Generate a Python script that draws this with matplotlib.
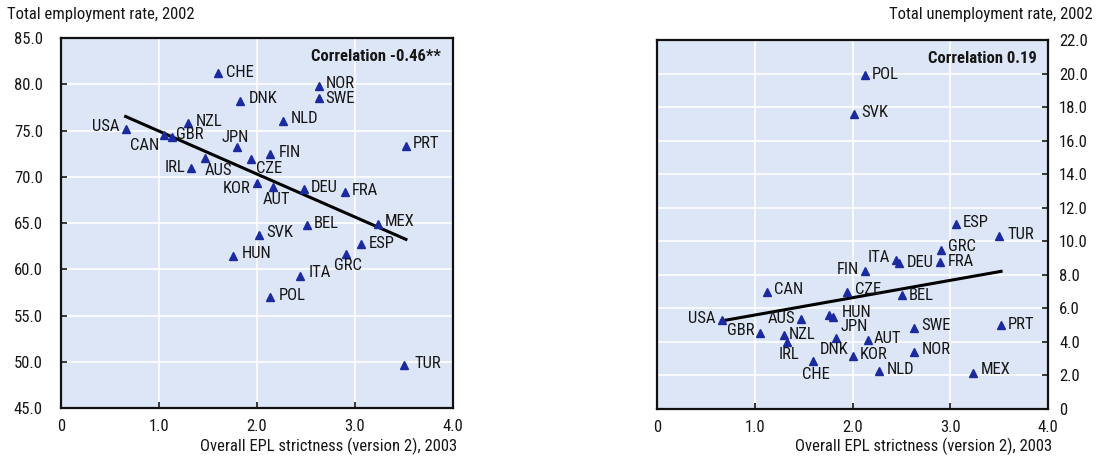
import matplotlib
matplotlib.use("Agg")
import matplotlib.pyplot as plt
import numpy as np

plt.rcParams['font.family'] = ['Roboto Condensed', 'Liberation Sans', 'DejaVu Sans']
plt.rcParams['font.stretch'] = 'condensed'

countries = ["USA", "CAN", "GBR", "NZL", "IRL", "AUS", "CHE", "HUN", "JPN", "DNK",
             "CZE", "KOR", "SVK", "POL", "FIN", "AUT", "NLD", "ITA", "DEU", "BEL",
             "SWE", "NOR", "FRA", "GRC", "ESP", "MEX", "TUR", "PRT"]
epl = [0.66, 1.13, 1.05, 1.30, 1.33, 1.47, 1.60, 1.76, 1.80, 1.83,
       1.94, 2.00, 2.02, 2.13, 2.13, 2.16, 2.27, 2.44, 2.48, 2.51,
       2.63, 2.63, 2.90, 2.91, 3.06, 3.23, 3.50, 3.52]
employment = [75.2, 74.3, 74.5, 75.8, 70.9, 72.0, 81.2, 61.4, 73.2, 78.2,
              71.9, 69.3, 63.7, 57.0, 72.5, 68.9, 76.0, 59.3, 68.7, 64.8,
              78.5, 79.8, 68.3, 61.7, 62.7, 64.9, 49.7, 73.3]
unemployment = [5.3, 7.0, 4.55, 4.4, 4.0, 5.35, 2.85, 5.6, 5.5, 4.25,
                7.0, 3.15, 17.6, 19.9, 8.2, 4.1, 2.25, 8.9, 8.7, 6.8,
                4.85, 3.4, 8.75, 9.5, 11.0, 2.15, 10.3, 5.0]

left_title = "Total employment rate, 2002"
right_title = "Total unemployment rate, 2002"
xlabel = "Overall EPL strictness (version 2), 2003"
left_corr = "Correlation -0.46**"
right_corr = "Correlation 0.19"
x_ticks = [0, 1, 2, 3, 4]
x_ticklabels = ["0", "1.0", "2.0", "3.0", "4.0"]
left_yticks = [45, 50, 55, 60, 65, 70, 75, 80, 85]
left_yticklabels = ["45.0", "50.0", "55.0", "60.0", "65.0", "70.0", "75.0", "80.0", "85.0"]
right_yticks = [0, 2, 4, 6, 8, 10, 12, 14, 16, 18, 20, 22]
right_yticklabels = ["0", "2.0", "4.0", "6.0", "8.0", "10.0", "12.0", "14.0", "16.0", "18.0", "20.0", "22.0"]

# label placement: (dx px, dy px downward, ha)
left_lab = {
    "USA": (-6, -2, 'right'), "CAN": (-12, 9, 'right'), "GBR": (12, -1, 'left'),
    "NZL": (7, -2, 'left'), "IRL": (-6, -1, 'right'), "AUS": (0, 12, 'left'),
    "CHE": (8, -1, 'left'), "HUN": (8, -3, 'left'), "JPN": (-2, -10, 'center'),
    "DNK": (8, -2, 'left'), "CZE": (5, 9, 'left'), "KOR": (-7, 5, 'right'),
    "SVK": (7, -3, 'left'), "POL": (9, -2, 'left'), "FIN": (9, -1, 'left'),
    "AUT": (4, 13, 'center'), "NLD": (7, -3, 'left'), "ITA": (9, -3, 'left'),
    "DEU": (7, -1, 'left'), "BEL": (7, -1, 'left'), "SWE": (7, 0, 'left'),
    "NOR": (7, -3, 'left'), "FRA": (7, -2, 'left'), "GRC": (-12, 12, 'left'),
    "ESP": (8, -1, 'left'), "MEX": (7, -2, 'left'), "TUR": (10, -1, 'left'),
    "PRT": (7, -3, 'left'),
}
right_lab = {
    "USA": (-6, -2, 'right'), "CAN": (7, -2, 'left'), "GBR": (-5, -2, 'right'),
    "NZL": (5, -1, 'left'), "IRL": (2, 13, 'center'), "AUS": (-6, -1, 'right'),
    "CHE": (2, 13, 'center'), "HUN": (13, -3, 'left'), "JPN": (8, 10, 'left'),
    "DNK": (-2, 12, 'center'), "CZE": (8, -2, 'left'), "KOR": (7, -2, 'left'),
    "SVK": (7, -1, 'left'), "POL": (7, -1, 'left'), "FIN": (-6, -2, 'right'),
    "AUT": (6, -2, 'left'), "NLD": (8, -2, 'left'), "ITA": (-6, -2, 'right'),
    "DEU": (7, -1, 'left'), "BEL": (6, 1, 'left'), "SWE": (7, -2, 'left'),
    "NOR": (8, -2, 'left'), "FRA": (7, -1, 'left'), "GRC": (7, -3, 'left'),
    "ESP": (7, -2, 'left'), "MEX": (8, -3, 'left'), "TUR": (8, -2, 'left'),
    "PRT": (7, -1, 'left'),
}

BG = '#dde6f6'
MK = '#1c2aa0'
FS = 12
TXT = '#161616'

W, H = 1102, 461
fig = plt.figure(figsize=(W / 100, H / 100), dpi=100)
ax1 = fig.add_axes([61 / W, 1 - 408 / H, 392 / W, 370 / H])
ax2 = fig.add_axes([657 / W, 1 - 409 / H, 391 / W, 369 / H])


def draw(ax, y, labels, corr, ylim, yticks, yticklabels, right):
    ax.set_facecolor(BG)
    ax.set_xlim(0, 4)
    ax.set_ylim(*ylim)
    ax.set_xticks(x_ticks)
    ax.set_xticklabels(x_ticklabels)
    ax.set_yticks(yticks)
    ax.set_yticklabels(yticklabels)
    ax.grid(True, color='white', linewidth=1.2)
    ax.set_axisbelow(True)
    for s in ax.spines.values():
        s.set_linewidth(1.6)
        s.set_color('#111111')
    ax.tick_params(direction='in', length=4, width=1.2, labelsize=FS, colors=TXT)
    ax.tick_params(axis='x', pad=8)
    if right:
        ax.yaxis.tick_right()
        ax.tick_params(axis='y', pad=8)
    else:
        ax.tick_params(axis='y', pad=13)
    ax.plot(epl, y, linestyle='none', marker='^', markersize=5.2, color=MK, zorder=3)
    for c, xv, yv in zip(countries, epl, y):
        dx, dy, ha = labels[c]
        ax.annotate(c, (xv, yv), xytext=(dx, -dy), textcoords='offset pixels',
                    ha=ha, va='center', fontsize=FS, color=TXT, zorder=4)
    coef = np.polyfit(epl, y, 1)
    xs = np.array([min(epl), max(epl)])
    ax.plot(xs, np.polyval(coef, xs), color='black', linewidth=2.2, zorder=2)
    ax.text(0.97, 0.95, corr, transform=ax.transAxes, ha='right', va='center',
            fontsize=FS, fontweight='bold', color=TXT)


draw(ax1, employment, left_lab, left_corr, (45, 85), left_yticks, left_yticklabels, False)
draw(ax2, unemployment, right_lab, right_corr, (0, 22), right_yticks, right_yticklabels, True)

fig.text(7 / W, 1 - 14 / H, left_title, ha='left', va='center', fontsize=FS, color=TXT)
fig.text(1093 / W, 1 - 14 / H, right_title, ha='right', va='center', fontsize=FS, color=TXT)
fig.text(457 / W, 1 - 446 / H, xlabel, ha='right', va='center', fontsize=FS, color=TXT)
fig.text(1052 / W, 1 - 446 / H, xlabel, ha='right', va='center', fontsize=FS, color=TXT)

fig.savefig('out.png', dpi=100, facecolor='white')
